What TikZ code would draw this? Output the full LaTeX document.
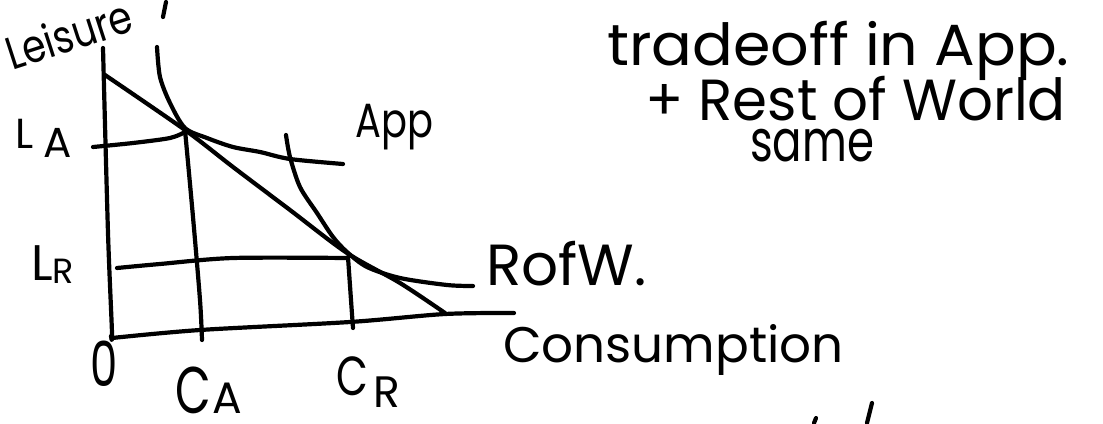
\documentclass[tikz,border=0pt]{standalone}
\usepackage{fontspec}
\setmainfont{Poppins}
\newcommand{\fs}[1]{\fontsize{#1}{#1}\selectfont}
\begin{document}
\begin{tikzpicture}[x=1pt,y=-1pt,
  ink/.style={line width=4.2pt,line cap=round,line join=round,black},
  hand/.style={inner sep=0pt,anchor=base west}]
\useasboundingbox (0,0) rectangle (1103,423);
% axes
\draw[ink] plot[smooth] coordinates {(103,48) (108,233) (112,333) (111,336)};
\draw[ink] plot[smooth] coordinates {(112,338) (200,330) (350,322) (445,314) (514,313)};
% budget line
\draw[ink] plot[smooth] coordinates {(105,75) (185,130) (233,167) (290,210) (347,253) (400,283) (445,313)};
% App indifference curve
\draw[ink] plot[smooth] coordinates {(157,47) (160,77) (170,103) (185,128) (207,138) (233,147) (260,152) (290,159) (343,164)};
% RofW indifference curve
\draw[ink] plot[smooth] coordinates {(286,135) (290,157) (300,187) (317,213) (333,237) (347,252) (367,267) (400,278) (447,285) (473,286)};
% guide lines
\draw[ink] plot[smooth] coordinates {(93,147) (133,143) (170,138) (185,132)};
\draw[ink] plot[smooth] coordinates {(185,130) (193,217) (200,300) (202,340)};
\draw[ink] plot[smooth] coordinates {(117,268) (160,264) (233,258) (347,258)};
\draw[ink] plot[smooth] coordinates {(348,257) (351,300) (353,328)};
% cropped stroke fragments
\draw[ink] (166,2) -- (163,17);
\draw[ink] (872,403) -- (867,423);
\draw[ink] (816,418) -- (814,423);
% labels
\node[hand,rotate=18,font=\fs{46},xscale=0.82] (leisure) at (12,71) {Leisure};
\node[hand,font=\fs{42}] (la) at (15,148) {L\hspace{10pt}\raisebox{-9pt}{A}};
\node[hand,font=\fs{50}] (lr) at (31,280) {L{\fs{35}\raisebox{-3pt}{R}}};
\node[hand,font=\fs{62},xscale=0.7] (zero) at (90,386) {0};
\node[hand,font=\fs{66}] (ca) at (175,413) {\scalebox{0.7}[1]{C}\hspace{2pt}{\fs{44}A}};
\node[hand,font=\fs{55}] (cr) at (336,395) {\scalebox{0.75}[1]{C}\hspace{5pt}{\fs{44}\raisebox{-12pt}{R}}};
\node[hand,font=\fs{48},xscale=0.8] (app) at (355,137) {App};
\node[hand,font=\fs{58}] (rofw) at (486,285) {RofW.};
\node[hand,font=\fs{50}] (cons) at (503,362) {Consumption};
\node[hand,font=\fs{58},xscale=1.04] (t1) at (607,65) {tradeoff in App.};
\node[hand,font=\fs{58},xscale=0.97] (t2) at (645,120) {+ Rest of World};
\node[hand,font=\fs{58},xscale=0.75] (t3) at (750,161) {same};
\end{tikzpicture}
\end{document}
